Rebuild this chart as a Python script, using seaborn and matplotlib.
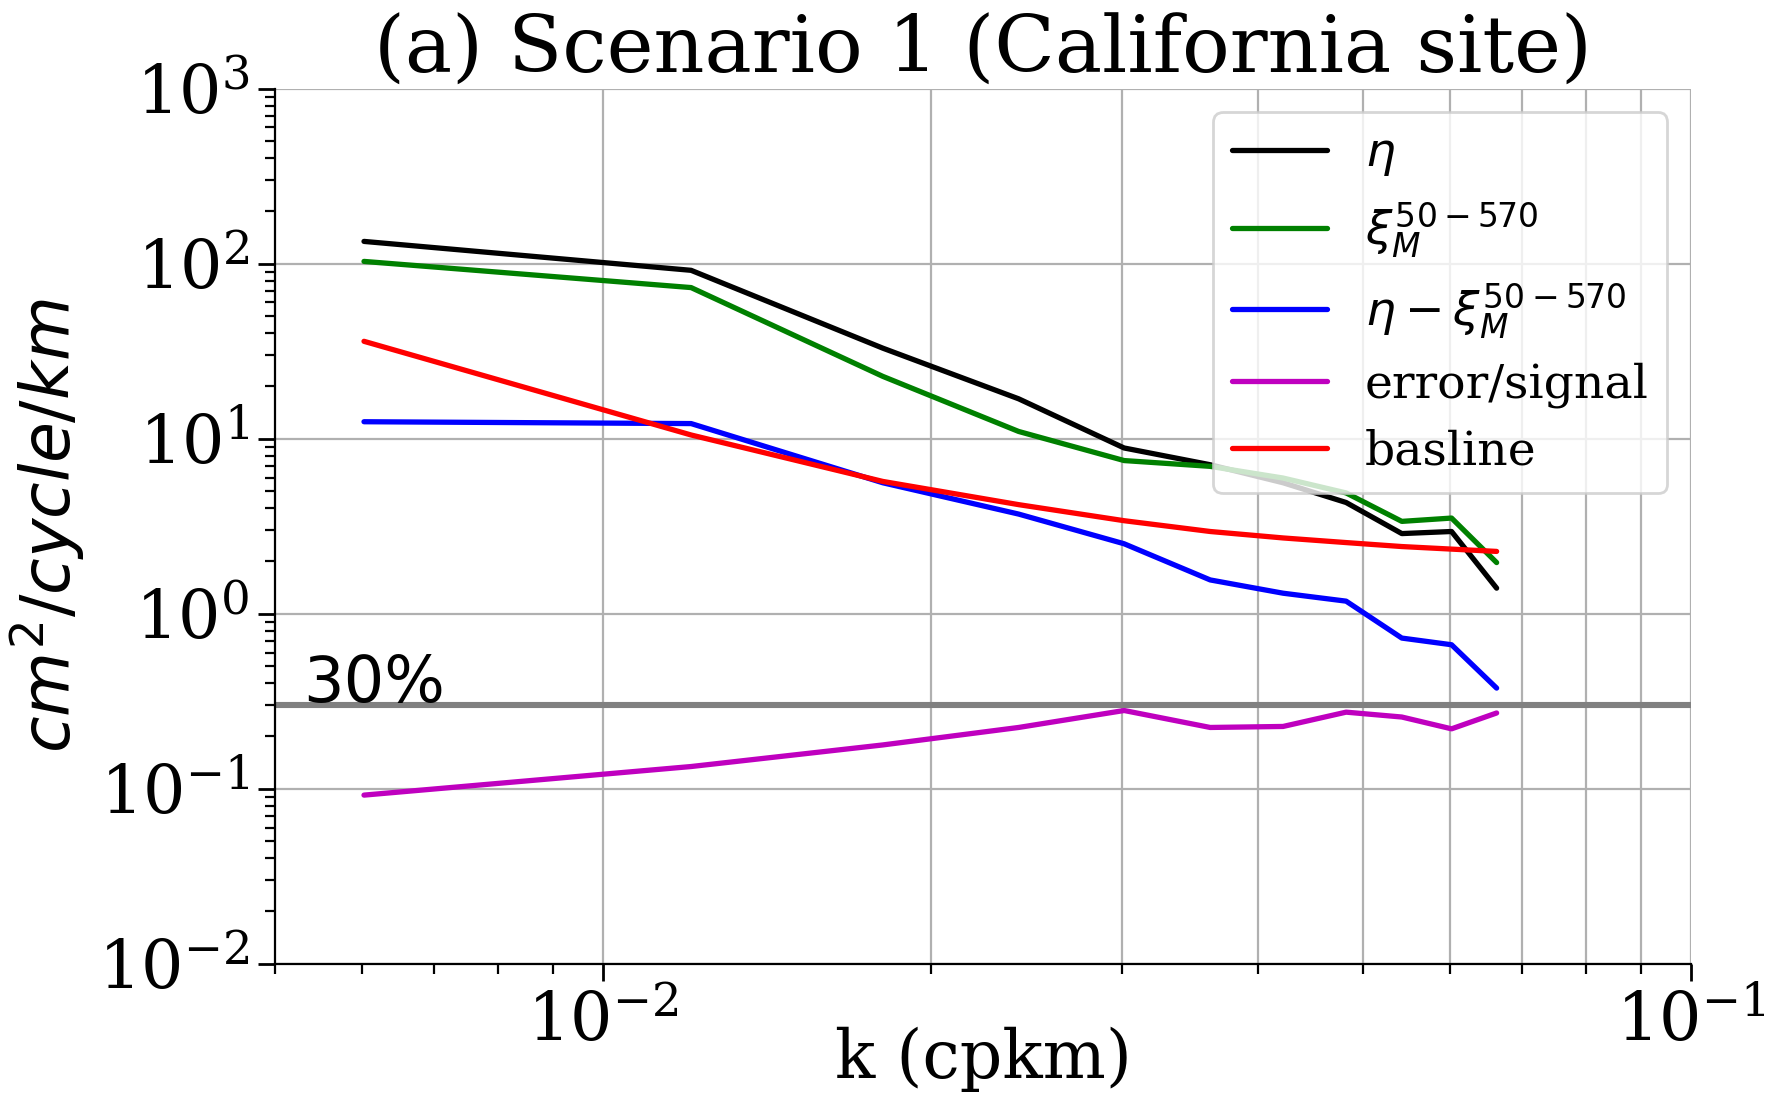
import numpy as np
import pandas as pd
import seaborn as sns
import matplotlib
matplotlib.use("Agg")
import matplotlib.pyplot as plt
from matplotlib.ticker import NullFormatter

# wavenumbers (cpkm)
k = [0.00603, 0.01205, 0.01808, 0.0241, 0.03013, 0.03615, 0.04218, 0.0482, 0.05423, 0.06025, 0.06628]

# spectra
eta = [134, 91.6, 32.9, 16.9, 8.85, 7.1, 5.6, 4.32, 2.87, 2.95, 1.40]
xi_m = [103, 73, 22.7, 11.0, 7.5, 6.95, 5.96, 4.9, 3.37, 3.52, 1.96]
eta_minus_xi = [12.5, 12.2, 5.6, 3.71, 2.51, 1.56, 1.31, 1.18, 0.726, 0.665, 0.376]
err_signal = [0.092, 0.134, 0.178, 0.224, 0.280, 0.224, 0.227, 0.274, 0.257, 0.220, 0.271]
baseline = [36, 10.5, 5.7, 4.2, 3.4, 2.95, 2.71, 2.55, 2.42, 2.34, 2.27]

threshold = 0.3

sns.set_style("ticks")
plt.rcParams['font.family'] = ['DejaVu Serif']
plt.rcParams['mathtext.fontset'] = 'dejavusans'
for key in ['axes.edgecolor', 'xtick.color', 'ytick.color', 'text.color', 'axes.labelcolor']:
    plt.rcParams[key] = 'black'

fig = plt.figure(figsize=(8.83, 5.47), dpi=200)
ax = fig.add_axes([0.156, 0.119, 0.8015, 0.8])

series = [
    (eta, 'k', r'$\eta$'),
    (xi_m, 'g', r'$\xi_M^{50-570}$'),
    (eta_minus_xi, 'b', r'$\eta-\xi_M^{50-570}$'),
    (err_signal, 'm', 'error/signal'),
    (baseline, 'r', 'basline'),
]
for vals, c, lab in series:
    sns.lineplot(x=k, y=vals, color=c, label=lab, lw=1.9, ax=ax)

ax.axhline(threshold, color='gray', lw=2.2)
ax.text(0.0053, threshold * 1.04, '30%', fontsize=23, family='DejaVu Sans', va='baseline')

ax.set_xscale('log')
ax.set_yscale('log')
ax.set_xlim(0.005, 0.1)
ax.set_ylim(1e-2, 1e3)
ax.xaxis.set_minor_formatter(NullFormatter())

ax.grid(True, which='major', color='#b0b0b0', lw=0.8)
ax.xaxis.grid(True, which='minor', color='#b0b0b0', lw=0.8)
locs = ax.xaxis.get_minorticklocs()
for loc, t in zip(locs, ax.xaxis.get_minor_ticks(len(locs))):
    t.gridline.set_visible(loc >= 0.0099)

for s in ['top', 'right']:
    ax.spines[s].set_visible(False)
ax.tick_params(which='major', labelsize=24, length=6, width=1)
ax.tick_params(which='minor', length=3.5, width=0.8)

ax.set_title('(a) Scenario 1 (California site)', fontsize=28.5, pad=4)
ax.set_xlabel('k (cpkm)', fontsize=24)
ax.xaxis.set_label_coords(0.5, -0.072)
ax.set_ylabel(r'$cm^2/cycle/km$', fontsize=24, labelpad=4)
ax.legend(loc='upper right', fontsize=17, labelspacing=0.45)

fig.savefig('out.png', dpi=200)
